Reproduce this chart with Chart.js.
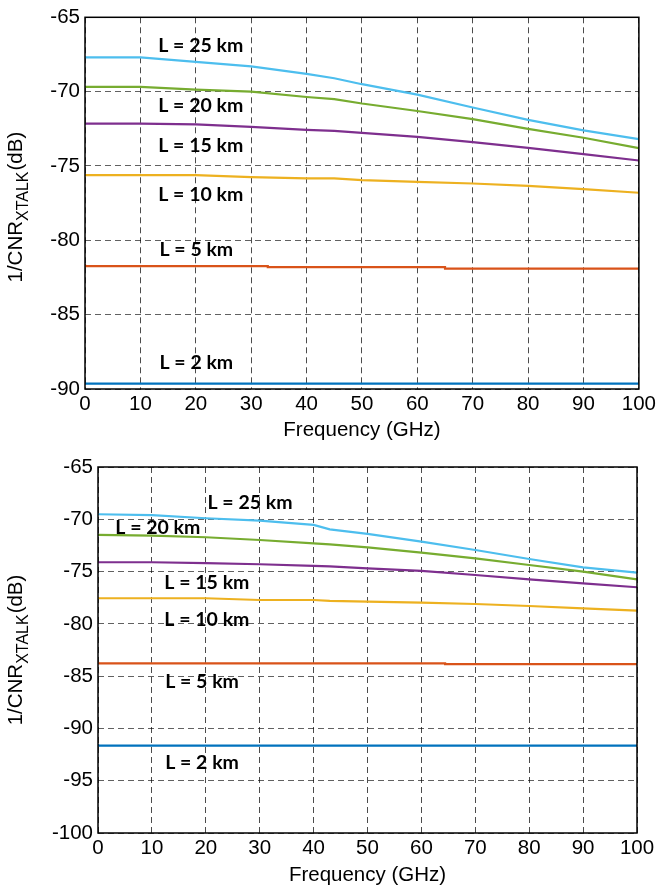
<!DOCTYPE html>
<html>
<head>
<meta charset="utf-8">
<script src="https://cdn.jsdelivr.net/npm/chart.js@4/dist/chart.umd.min.js"></script>
<style>
  body { margin: 0; background: #fff; }
  canvas { display: block; }
</style>
</head>
<body>
<canvas id="top" width="659" height="446"></canvas>
<canvas id="bottom" width="659" height="445"></canvas>
<script>
// 거리별 이름과 색
const names = ['L = 2 km', 'L = 5 km', 'L = 10 km', 'L = 15 km', 'L = 20 km', 'L = 25 km'];
const colors = ['#0072BD', '#D95319', '#EDB120', '#7E2F8E', '#77AC30', '#4DBEEE'];

const xTicks = [0, 10, 20, 30, 40, 50, 60, 70, 80, 90, 100];
const yTicksTop = [-90, -85, -80, -75, -70, -65];
const yTicksBottom = [-100, -95, -90, -85, -80, -75, -70, -65];

// 위 그래프 (곡선: 공통 주파수)
const freqTop = [0, 10, 20, 30, 40, 45, 50, 60, 70, 80, 90, 100];
const top10 = [-75.62, -75.62, -75.62, -75.75, -75.84, -75.84, -75.95, -76.07, -76.18, -76.34, -76.56, -76.8];
const top15 = [-72.15, -72.15, -72.2, -72.37, -72.57, -72.64, -72.77, -73.04, -73.4, -73.78, -74.2, -74.63];
const top20 = [-69.68, -69.68, -69.86, -70.0, -70.36, -70.5, -70.8, -71.3, -71.85, -72.5, -73.1, -73.8];
const top25 = [-67.7, -67.7, -68.0, -68.3, -68.8, -69.1, -69.5, -70.2, -71.07, -71.9, -72.6, -73.2];
// 계단 모양 (거의 평탄)
const freqTop5 = [0, 33, 65, 85, 100];
const top5 = [-81.6, -81.73, -81.8, -81.9, -81.9];
const freqTop2 = [0, 38.5, 100];
const top2 = [-89.55, -89.64, -89.64];

// 아래 그래프
const freqBot = [0, 10, 20, 30, 40, 43, 50, 60, 70, 80, 90, 100];
const bot10 = [-77.55, -77.55, -77.55, -77.72, -77.72, -77.81, -77.88, -77.97, -78.1, -78.29, -78.51, -78.74];
const bot15 = [-74.11, -74.11, -74.2, -74.3, -74.46, -74.5, -74.69, -74.94, -75.33, -75.74, -76.12, -76.5];
const bot20 = [-71.5, -71.57, -71.72, -71.98, -72.3, -72.39, -72.68, -73.19, -73.73, -74.37, -75.0, -75.74];
const bot25 = [-69.52, -69.6, -69.9, -70.13, -70.54, -70.96, -71.4, -72.14, -72.94, -73.8, -74.59, -75.1];
const freqBot5 = [0, 64.4, 92.2, 100];
const bot5 = [-83.6, -83.77, -83.86, -83.86];
const freqBot2 = [0, 94.9, 100];
const bot2 = [-91.48, -91.64, -91.64];

// 곡선 이름표 위치 (데이터 좌표)
const labelXTop = [20.1, 20.1, 20.9, 20.9, 20.9, 20.9];
const labelYTop = [-88.23, -80.66, -76.96, -73.65, -70.98, -66.9];
const labelXBot = [19.3, 19.3, 20.2, 20.2, 11.1, 28.2];
const labelYBot = [-93.27, -85.52, -79.56, -76.06, -70.77, -68.41];

function pts(xs, ys) {
  return xs.map((x, i) => ({ x: x, y: ys[i] }));
}

function makeSets(series) {
  return series.map((s, i) => ({
    label: names[i],
    data: pts(s[0], s[1]),
    borderColor: colors[i],
    borderWidth: 2.2,
    pointRadius: 0,
    fill: false,
    tension: 0,
    stepped: s[2] ? 'after' : false
  }));
}

// 테두리, y축 제목, 곡선 이름표
const decor = {
  id: 'decor',
  afterDatasetsDraw(chart, args, opts) {
    const ctx = chart.ctx;
    const a = chart.chartArea;
    const xs = chart.scales.x, ys = chart.scales.y;
    ctx.save();
    ctx.strokeStyle = '#000';
    ctx.lineWidth = 1.5;
    ctx.strokeRect(a.left, a.top, a.right - a.left, a.bottom - a.top);

    ctx.fillStyle = '#000';
    ctx.font = 'bold 19.5px Lato';
    ctx.textAlign = 'center';
    ctx.textBaseline = 'middle';
    opts.lx.forEach((x, i) => {
      ctx.fillText(names[i], xs.getPixelForValue(x), ys.getPixelForValue(opts.ly[i]));
    });

    // 1/CNR_XTALK (dB)
    const main = '20.5px "Liberation Sans"', sub = '16px "Liberation Sans"';
    ctx.font = main; const w1 = ctx.measureText('1/CNR').width;
    ctx.font = sub; const w2 = ctx.measureText('XTALK').width;
    ctx.font = main; const w3 = ctx.measureText('(dB)').width;
    const total = w1 + w2 + w3 + 1;
    ctx.translate(22, (a.top + a.bottom) / 2 + opts.dy);
    ctx.rotate(-Math.PI / 2);
    ctx.textAlign = 'left';
    ctx.textBaseline = 'alphabetic';
    let p = -total / 2;
    ctx.font = main; ctx.fillText('1/CNR', p, 0); p += w1;
    ctx.font = sub; ctx.fillText('XTALK', p, 6); p += w2 + 1;
    ctx.font = main; ctx.fillText('(dB)', p, 0);
    ctx.restore();
  }
};

function makeChart(id, series, yTicks, pad, xH, yW, lx, ly, dy) {
  new Chart(document.getElementById(id), {
    type: 'line',
    data: { datasets: makeSets(series) },
    options: {
      responsive: false,
      animation: false,
      layout: { padding: pad },
      plugins: {
        legend: { display: false },
        tooltip: { enabled: false },
        decor: { lx: lx, ly: ly, dy: dy }
      },
      scales: {
        x: {
          type: 'linear',
          min: 0, max: 100,
          afterBuildTicks: s => { s.ticks = xTicks.map(v => ({ value: v })); },
          afterFit: s => { s.height = xH; },
          ticks: { color: '#000', font: { family: 'Liberation Sans', size: 20.5 }, padding: 3, maxRotation: 0 },
          grid: { color: 'rgba(0,0,0,0.7)', lineWidth: 1, drawTicks: false },
          border: { display: false, dash: [6, 4] },
          title: { display: true, text: 'Frequency (GHz)', color: '#000',
                   font: { family: 'Liberation Sans', size: 20.5 }, padding: { top: 0, bottom: 3 } }
        },
        y: {
          type: 'linear',
          min: yTicks[0], max: yTicks[yTicks.length - 1],
          afterBuildTicks: s => { s.ticks = yTicks.map(v => ({ value: v })); },
          afterFit: s => { s.width = yW; },
          ticks: { color: '#000', font: { family: 'Liberation Sans', size: 20.5 }, padding: 5 },
          grid: { color: 'rgba(0,0,0,0.62)', lineWidth: 1, drawTicks: false },
          border: { display: false, dash: [6, 4] }
        }
      }
    },
    plugins: [decor]
  });
}

makeChart('top', [
  [freqTop2, top2, true], [freqTop5, top5, true], [freqTop, top10], [freqTop, top15], [freqTop, top20], [freqTop, top25]
], yTicksTop, { top: 17, right: 20, left: 0, bottom: 0 }, 57, 85, labelXTop, labelYTop, 4);

makeChart('bottom', [
  [freqBot2, bot2, true], [freqBot5, bot5, true], [freqBot, bot10], [freqBot, bot15], [freqBot, bot20], [freqBot, bot25]
], yTicksBottom, { top: 21, right: 22, left: 0, bottom: 0 }, 58, 98, labelXBot, labelYBot, 0);
</script>
</body>
</html>
